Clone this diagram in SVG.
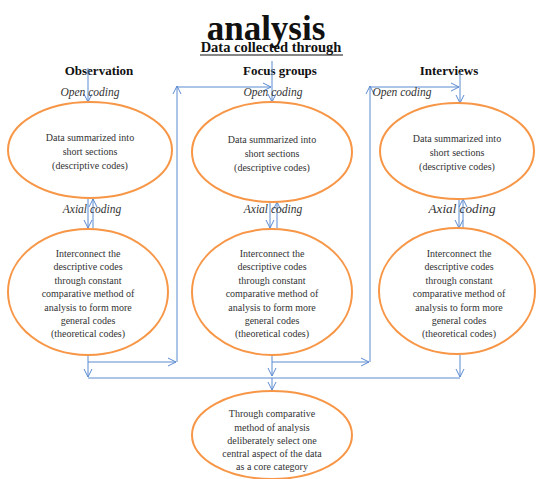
<svg xmlns="http://www.w3.org/2000/svg" width="536" height="479" viewBox="0 0 536 479">
<defs>
<marker id="ah" markerUnits="userSpaceOnUse" markerWidth="10" markerHeight="10" refX="8" refY="4" orient="auto" overflow="visible">
<path d="M0,0 L8,4 L0,8" fill="none" stroke="#5B8BD0" stroke-width="1"/>
</marker>
</defs>
<style>
.ttl{font-family:"Liberation Serif",serif;font-weight:bold;fill:#111}
.hd{font-family:"Liberation Serif",serif;font-weight:bold;font-size:13px;fill:#111;text-anchor:middle}
.lbl{font-family:"Liberation Serif",serif;font-style:italic;font-size:11.5px;fill:#333;text-anchor:middle}
.tx{font-family:"Liberation Serif",serif;font-size:10px;fill:#333;text-anchor:middle}
.el{fill:#fff;stroke:#F79646;stroke-width:2}
.cn line,.cn polyline{stroke:#5B8BD0;stroke-width:1;fill:none}
.ar{marker-end:url(#ah)}
</style>
<rect width="536" height="479" fill="#fff"/>
<g id="title">
<text class="ttl" x="266" y="40" font-size="35" text-anchor="middle">analysis</text>
<text class="ttl" x="271" y="52" font-size="14.5" text-anchor="middle">Data collected through</text>
<line x1="200" y1="55" x2="343" y2="55" stroke="#111" stroke-width="1.2"/>
</g>
<g id="headers">
<text class="hd" x="99" y="75">Observation</text>
<text class="hd" x="280" y="75">Focus groups</text>
<text class="hd" x="449" y="75">Interviews</text>
</g>
<g class="cn" id="connectors">
<line class="ar" x1="88" y1="68" x2="88" y2="102"/>
<line class="ar" x1="272" y1="61" x2="272" y2="102"/>
<line class="ar" x1="460" y1="72" x2="460" y2="103"/>
<line class="ar" x1="88" y1="199" x2="88" y2="228"/>
<line class="ar" x1="93" y1="228" x2="93" y2="199"/>
<line class="ar" x1="270" y1="202" x2="270" y2="228"/>
<line class="ar" x1="277" y1="228" x2="277" y2="202"/>
<line class="ar" x1="459" y1="199" x2="459" y2="228"/>
<line class="ar" x1="463" y1="228" x2="463" y2="199"/>
<line class="ar" x1="88" y1="355" x2="88" y2="377"/>
<line class="ar" x1="88" y1="362" x2="176" y2="362"/>
<line class="ar" x1="177" y1="362" x2="177" y2="86"/>
<line class="ar" x1="177" y1="87" x2="271" y2="87"/>
<line class="ar" x1="272" y1="355" x2="272" y2="376"/>
<line class="ar" x1="272" y1="362" x2="369" y2="362"/>
<line class="ar" x1="370" y1="362" x2="370" y2="86"/>
<line class="ar" x1="370" y1="87" x2="459" y2="87"/>
<line class="ar" x1="460" y1="355" x2="460" y2="377"/>
<line x1="88" y1="378" x2="460" y2="378"/>
<line class="ar" x1="272" y1="378" x2="272" y2="390"/>
</g>
<g id="labels">
<text class="lbl" x="90" y="96">Open coding</text>
<text class="lbl" x="273" y="96">Open coding</text>
<text class="lbl" x="402" y="96">Open coding</text>
<text class="lbl" x="92" y="213">Axial coding</text>
<text class="lbl" x="273" y="213">Axial coding</text>
<text class="lbl" x="462" y="213" style="font-size:13.2px">Axial coding</text>
</g>
<g id="obs-open">
<ellipse class="el" cx="90" cy="150" rx="82" ry="48"/>
<text class="tx" x="90" y="141">Data summarized into</text>
<text class="tx" x="90" y="155">short sections</text>
<text class="tx" x="90" y="169">(descriptive codes)</text>
</g>
<g id="fg-open">
<ellipse class="el" cx="272" cy="152" rx="80" ry="50"/>
<text class="tx" x="272" y="143">Data summarized into</text>
<text class="tx" x="272" y="157">short sections</text>
<text class="tx" x="272" y="171">(descriptive codes)</text>
</g>
<g id="int-open">
<ellipse class="el" cx="457" cy="151" rx="77" ry="48"/>
<text class="tx" x="457" y="142">Data summarized into</text>
<text class="tx" x="457" y="156">short sections</text>
<text class="tx" x="457" y="170">(descriptive codes)</text>
</g>
<g id="obs-axial">
<ellipse class="el" cx="88" cy="292" rx="80" ry="63"/>
<text class="tx" x="88" y="257">Interconnect the</text>
<text class="tx" x="88" y="270">descriptive codes</text>
<text class="tx" x="88" y="284">through constant</text>
<text class="tx" x="88" y="297">comparative method of</text>
<text class="tx" x="88" y="311">analysis to form more</text>
<text class="tx" x="88" y="324">general codes</text>
<text class="tx" x="88" y="337">(theoretical  codes)</text>
</g>
<g id="fg-axial">
<ellipse class="el" cx="272" cy="292" rx="80" ry="63"/>
<text class="tx" x="272" y="257">Interconnect the</text>
<text class="tx" x="272" y="270">descriptive codes</text>
<text class="tx" x="272" y="284">through constant</text>
<text class="tx" x="272" y="297">comparative method of</text>
<text class="tx" x="272" y="311">analysis to form more</text>
<text class="tx" x="272" y="324">general codes</text>
<text class="tx" x="272" y="337">(theoretical  codes)</text>
</g>
<g id="int-axial">
<ellipse class="el" cx="457" cy="291" rx="78" ry="63"/>
<text class="tx" x="459" y="257">Interconnect the</text>
<text class="tx" x="459" y="270">descriptive codes</text>
<text class="tx" x="459" y="284">through constant</text>
<text class="tx" x="459" y="297">comparative method of</text>
<text class="tx" x="459" y="311">analysis to form more</text>
<text class="tx" x="459" y="324">general codes</text>
<text class="tx" x="459" y="337">(theoretical  codes)</text>
</g>
<g id="core">
<ellipse class="el" cx="272" cy="435" rx="80" ry="44"/>
<text class="tx" x="272" y="417">Through comparative</text>
<text class="tx" x="272" y="431">method of analysis</text>
<text class="tx" x="272" y="444">deliberately select one</text>
<text class="tx" x="272" y="457">central aspect of the data</text>
<text class="tx" x="272" y="470">as a core category</text>
</g>
</svg>
